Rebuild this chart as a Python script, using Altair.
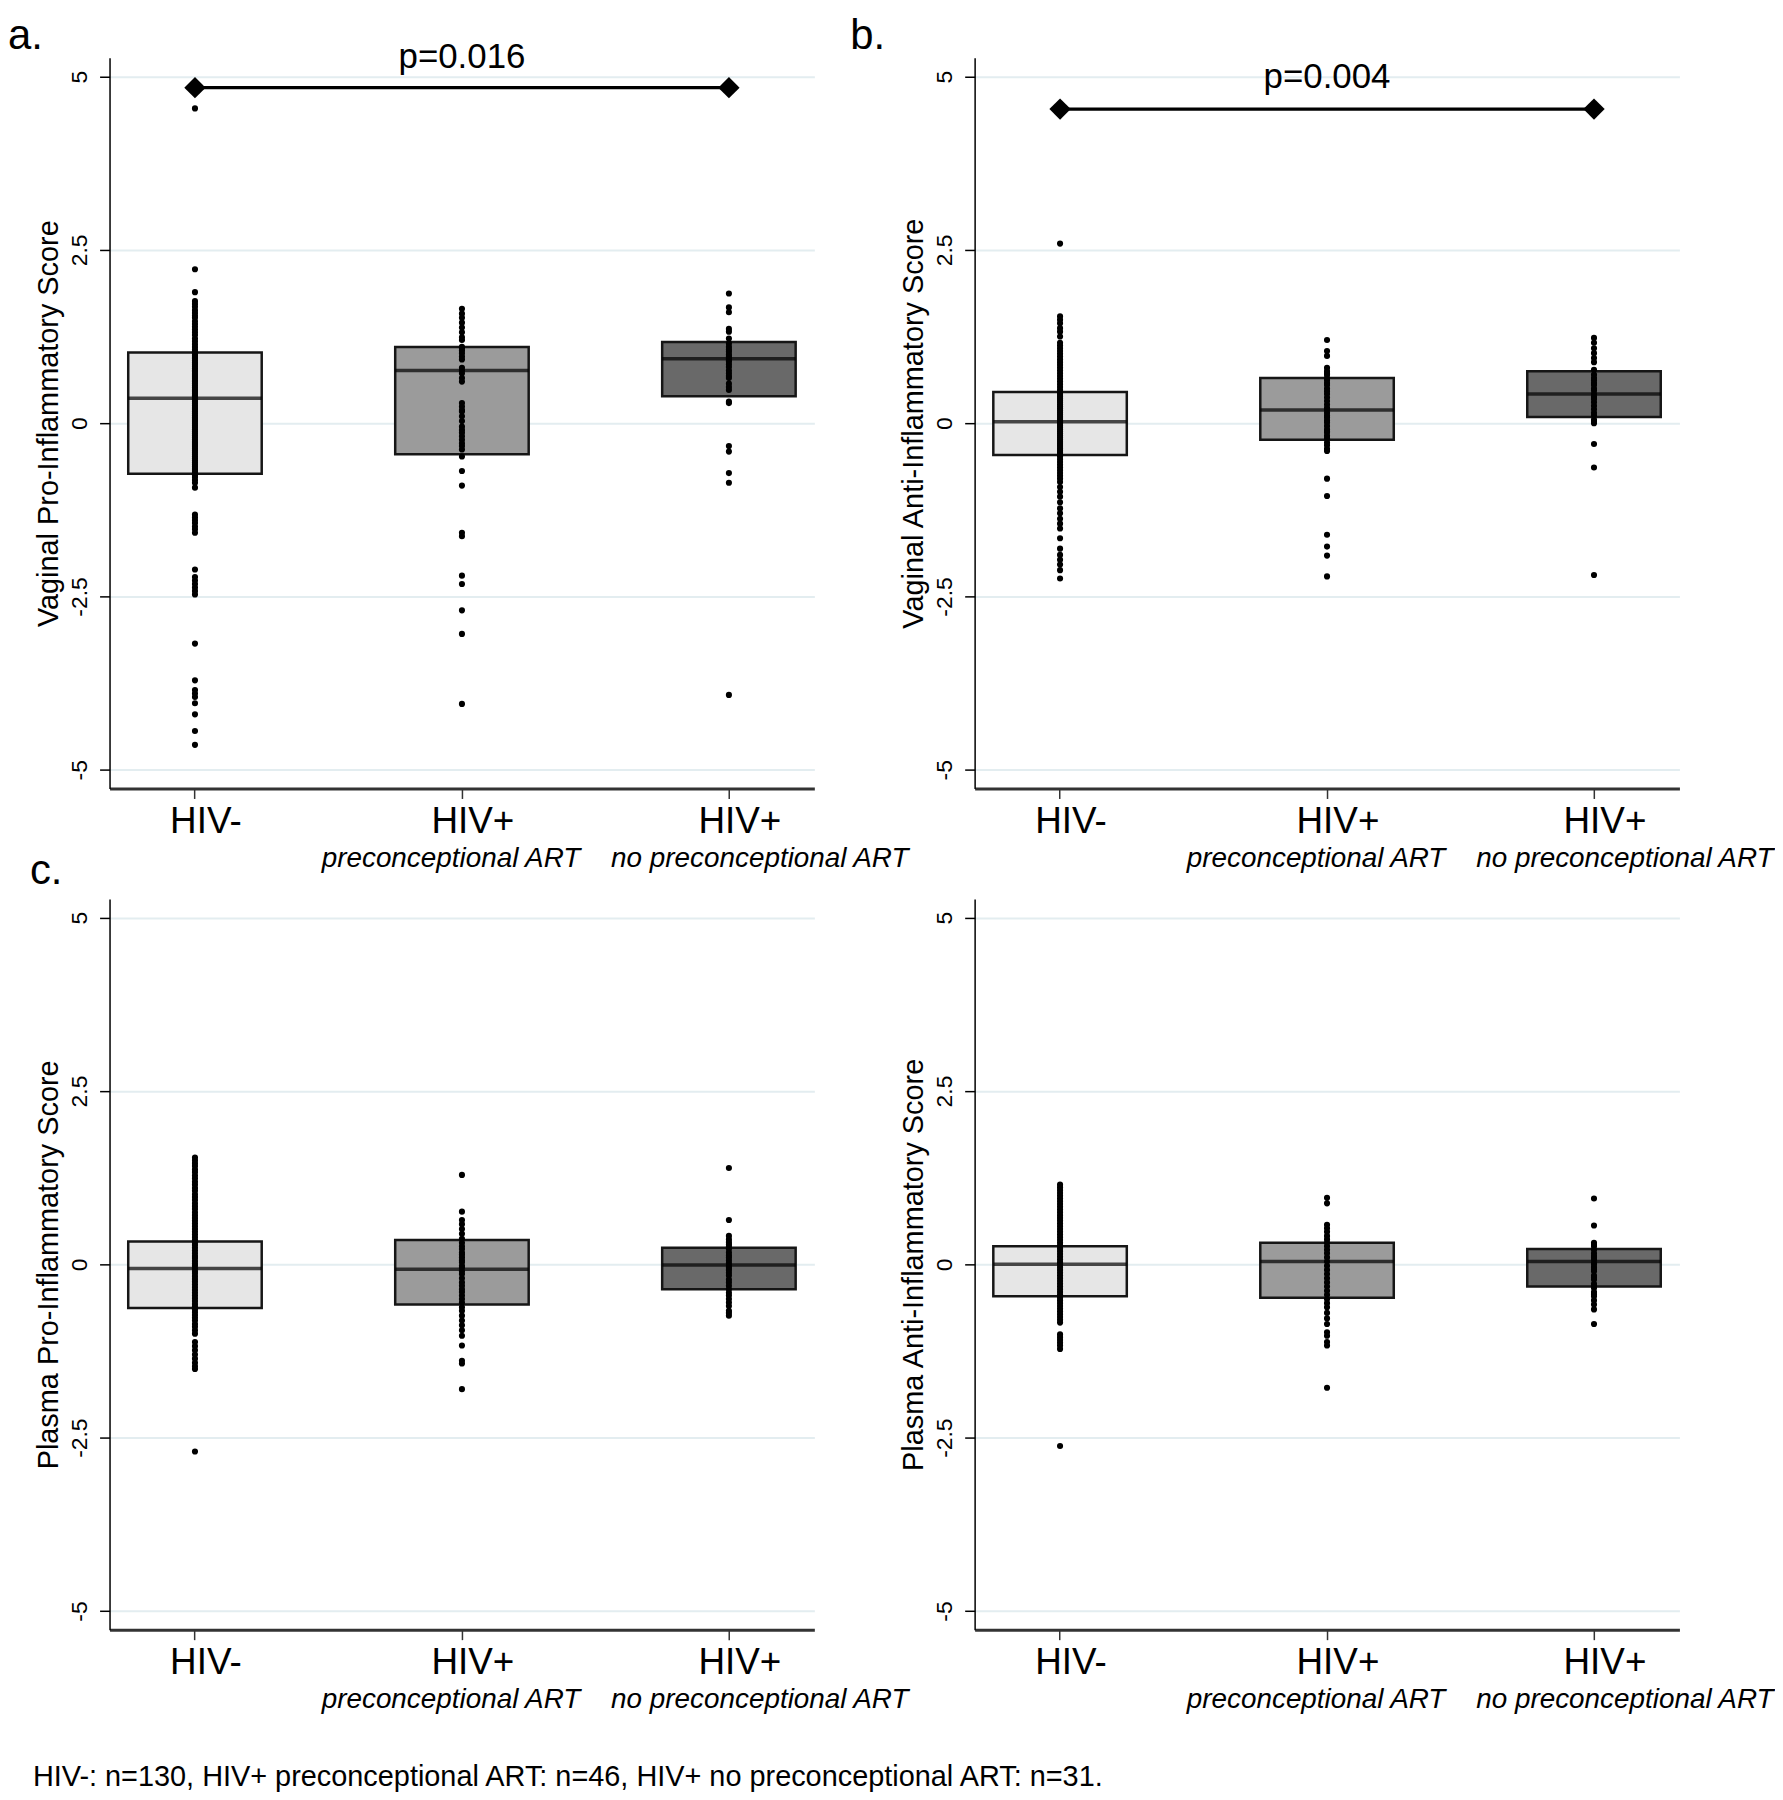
import altair as alt
import pandas as pd

GROUPS = ["HIV-", "HIV+ preconceptional ART", "HIV+ no preconceptional ART"]
TOP_LABELS = ["HIV-", "HIV+", "HIV+"]
SUBTITLES = ["", "preconceptional ART", "no preconceptional ART"]
FILLS = ["#e6e6e6", "#9b9b9b", "#696969"]
Y_TICKS = [-5, -2.5, 0, 2.5, 5]

# ---- Panel a: Vaginal Pro-Inflammatory Score ----
A_NEG = [4.54, 2.22, 1.89, 1.76, 1.72, 1.68, 1.63, 1.59, 1.55, 1.52, 1.47, 1.43, 1.39, 1.35, 1.31,
         1.27, 1.22, 1.18, 1.14, 1.10, 1.06, 1.03, 1.00, 0.98, 0.95, 0.93, 0.90, 0.87, 0.85, 0.82,
         0.79, 0.76, 0.74, 0.71, 0.68, 0.65, 0.62, 0.60, 0.57, 0.54, 0.51, 0.48, 0.46, 0.43, 0.40,
         0.38, 0.36, 0.34, 0.31, 0.28, 0.25, 0.22, 0.20, 0.17, 0.14, 0.11, 0.08, 0.06, 0.03, 0.00,
         -0.03, -0.06, -0.09, -0.12, -0.15, -0.18, -0.21, -0.24, -0.27, -0.30, -0.33, -0.36, -0.39,
         -0.42, -0.45, -0.48, -0.51, -0.54, -0.57, -0.60, -0.63, -0.66, -0.69, -0.72, -0.75, -0.78,
         -0.82, -0.86, -0.93, -1.32, -1.36, -1.40, -1.44, -1.49, -1.53, -1.58, -2.11, -2.22, -2.27,
         -2.32, -2.37, -2.42, -2.47, -3.18, -3.71, -3.85, -3.90, -3.95, -4.04, -4.20, -4.44, -4.64]
A_PRE = [1.65, 1.58, 1.52, 1.45, 1.38, 1.31, 1.24, 1.20, 1.10, 1.08, 1.05, 1.01, 0.96, 0.92, 0.80,
         0.76, 0.72, 0.65, 0.60, 0.29, 0.24, 0.19, 0.17, 0.10, 0.03, -0.05, -0.10, -0.14, -0.19,
         -0.24, -0.29, -0.33, -0.38, -0.48, -0.69, -0.90, -1.58, -1.63, -2.20, -2.32, -2.70, -3.04,
         -4.05]
A_NOPRE = [1.87, 1.67, 1.60, 1.36, 1.32, 1.22, 1.15, 1.10, 1.06, 1.03, 0.99, 0.96, 0.93, 0.91,
           0.89, 0.85, 0.81, 0.76, 0.72, 0.68, 0.65, 0.57, 0.52, 0.48, 0.31, 0.29, -0.33, -0.41,
           -0.72, -0.86, -3.92]
A_Q1 = [-0.73, -0.45, 0.39]
A_MED = [0.36, 0.76, 0.93]
A_Q3 = [1.02, 1.10, 1.17]

# ---- Panel b: Vaginal Anti-Inflammatory Score ----
B_NEG = [2.59, 1.54, 1.49, 1.44, 1.37, 1.32, 1.25, 1.16, 1.12, 1.08, 1.04, 1.00, 0.96, 0.92, 0.88,
         0.84, 0.80, 0.76, 0.72, 0.68, 0.64, 0.60, 0.56, 0.52, 0.48, 0.45, 0.42, 0.39, 0.36, 0.33,
         0.30, 0.27, 0.24, 0.21, 0.18, 0.15, 0.12, 0.09, 0.06, 0.03, 0.02, 0.00, -0.03, -0.06, -0.09,
         -0.12, -0.15, -0.18, -0.21, -0.24, -0.27, -0.30, -0.33, -0.36, -0.39, -0.42, -0.45, -0.48,
         -0.52, -0.56, -0.60, -0.64, -0.68, -0.72, -0.76, -0.80, -0.85, -0.92, -0.99, -1.06, -1.14,
         -1.23, -1.30, -1.38, -1.45, -1.52, -1.66, -1.81, -1.90, -1.97, -2.04, -2.12, -2.24]
B_PRE = [1.20, 1.04, 0.97, 0.80, 0.75, 0.72, 0.70, 0.65, 0.62, 0.58, 0.55, 0.50, 0.46, 0.42, 0.37,
         0.32, 0.27, 0.22, 0.19, 0.15, 0.11, 0.08, 0.04, 0.01, -0.04, -0.09, -0.12, -0.13, -0.18,
         -0.22, -0.28, -0.32, -0.37, -0.40, -0.80, -1.05, -1.61, -1.78, -1.91, -2.21]
B_NOPRE = [1.23, 1.16, 1.08, 1.01, 0.94, 0.88, 0.77, 0.70, 0.65, 0.62, 0.58, 0.55, 0.50, 0.47, 0.42,
           0.38, 0.35, 0.30, 0.25, 0.20, 0.15, 0.11, 0.05, 0.03, 0.00, -0.30, -0.64, -2.19]
B_Q1 = [-0.46, -0.24, 0.09]
B_MED = [0.02, 0.19, 0.42]
B_Q3 = [0.45, 0.65, 0.75]

# ---- Panel c: Plasma Pro-Inflammatory Score ----
C_NEG = [1.54, 1.50, 1.46, 1.42, 1.37, 1.33, 1.28, 1.24, 1.19, 1.15, 1.10, 1.06, 1.01, 0.97, 0.93,
         0.88, 0.84, 0.80, 0.75, 0.71, 0.67, 0.63, 0.59, 0.55, 0.51, 0.47, 0.43, 0.39, 0.35, 0.31,
         0.28, 0.24, 0.20, 0.16, 0.12, 0.09, 0.05, 0.01, -0.02, -0.06, -0.10, -0.13, -0.17, -0.21,
         -0.25, -0.29, -0.33, -0.37, -0.41, -0.45, -0.49, -0.53, -0.57, -0.61, -0.65, -0.69, -0.73,
         -0.77, -0.81, -0.86, -0.90, -0.95, -1.00, -1.12, -1.18, -1.24, -1.30, -1.36, -1.42, -1.47,
         -1.51, -2.70]
C_PRE = [1.29, 0.76, 0.64, 0.58, 0.51, 0.44, 0.37, 0.31, 0.26, 0.22, 0.17, 0.14, 0.10, 0.06, 0.03,
         -0.02, -0.05, -0.10, -0.14, -0.20, -0.26, -0.31, -0.36, -0.40, -0.45, -0.50, -0.55, -0.62,
         -0.67, -0.74, -0.81, -0.88, -0.95, -1.03, -1.17, -1.39, -1.43, -1.80]
C_NOPRE = [1.39, 0.64, 0.41, 0.36, 0.32, 0.29, 0.26, 0.22, 0.17, 0.13, 0.10, 0.06, 0.02, -0.02,
           -0.05, -0.08, -0.12, -0.16, -0.22, -0.26, -0.31, -0.36, -0.41, -0.45, -0.50, -0.55,
           -0.60, -0.67, -0.70, -0.74]
C_Q1 = [-0.63, -0.58, -0.36]
C_MED = [-0.06, -0.07, -0.01]
C_Q3 = [0.33, 0.35, 0.24]

# ---- Panel d: Plasma Anti-Inflammatory Score ----
D_NEG = [1.15, 1.11, 1.07, 1.03, 0.99, 0.95, 0.91, 0.87, 0.83, 0.79, 0.75, 0.71, 0.67, 0.63, 0.59,
         0.55, 0.51, 0.47, 0.43, 0.39, 0.35, 0.31, 0.27, 0.23, 0.19, 0.15, 0.11, 0.07, 0.03, 0.00,
         -0.04, -0.08, -0.12, -0.16, -0.20, -0.24, -0.28, -0.32, -0.36, -0.40, -0.44, -0.48, -0.52,
         -0.56, -0.60, -0.64, -0.68, -0.72, -0.76, -0.80, -0.84, -1.01, -1.05, -1.09, -1.13, -1.17,
         -1.22, -2.62]
D_PRE = [0.96, 0.88, 0.57, 0.52, 0.47, 0.41, 0.36, 0.31, 0.26, 0.21, 0.16, 0.10, 0.04, -0.02, -0.08,
         -0.14, -0.20, -0.26, -0.32, -0.38, -0.44, -0.50, -0.56, -0.62, -0.70, -0.78, -0.86, -0.98,
         -1.03, -1.12, -1.17, -1.78]
D_NOPRE = [0.95, 0.56, 0.31, 0.28, 0.26, 0.21, 0.16, 0.12, 0.10, 0.07, 0.02, 0.00, -0.04, -0.07,
           -0.10, -0.16, -0.19, -0.22, -0.28, -0.31, -0.34, -0.40, -0.43, -0.46, -0.52, -0.58,
           -0.65, -0.86]
D_Q1 = [-0.46, -0.48, -0.32]
D_MED = [0.00, 0.04, 0.04]
D_Q3 = [0.26, 0.31, 0.22]

TITLES = ["Vaginal Pro-Inflammatory Score", "Vaginal Anti-Inflammatory Score",
          "Plasma Pro-Inflammatory Score", "Plasma Anti-Inflammatory Score"]
P_LABELS = ["p=0.016", "p=0.004"]
P_BRACKET_Y = [4.84, 4.53]
P_TEXT_Y = [5.12, 4.83]
LETTERS = ["a.", "b.", "c."]
FOOTNOTE = "HIV-: n=130, HIV+ preconceptional ART: n=46, HIV+ no preconceptional ART: n=31."

W, H = 708, 734
BAND = 134
FONT = "Liberation Sans"

x_scale = alt.Scale(domain=GROUPS, paddingInner=0.5, paddingOuter=0.07)
y_scale = alt.Scale(domain=[-5.27, 5.27], nice=False, zero=False)


def x_enc():
    label_expr = ("datum.label == 'HIV-' ? '%s' : '%s'" % (TOP_LABELS[0], TOP_LABELS[1]))
    return alt.X("group:N", scale=x_scale, sort=GROUPS,
                 axis=alt.Axis(title=None, labelAngle=0, labelFont=FONT, labelFontSize=37,
                               labelColor="black", labelExpr=label_expr, labelOffset=11,
                               labelPadding=5, tickSize=10, tickColor="#333333", tickWidth=1.5,
                               domainColor="#333333", domainWidth=3, bandPosition=0.5,
                               grid=False, labelLimit=400))


def y_enc(field, title):
    return alt.Y(field, type="quantitative", scale=y_scale,
                 axis=alt.Axis(values=Y_TICKS, title=title, titleFont=FONT, titleFontSize=29,
                               titleFontWeight="normal", titleColor="black", titlePadding=5,
                               labelFont=FONT, labelFontSize=23, labelColor="black",
                               labelAngle=270, labelAlign="center", labelBaseline="bottom",
                               labelPadding=8, labelExpr="toString(datum.value)",
                               tickSize=10, tickColor="black", tickWidth=1.5,
                               domainColor="black", domainWidth=1.5,
                               grid=True, gridColor="#e3edf0", gridWidth=2))


def panel(idx, neg, pre, nopre, q1, med, q3, letter=None, letter_pos=None,
          pval=None, footnote=False):
    title = TITLES[idx]
    pts = pd.DataFrame({
        "group": [GROUPS[0]] * len(neg) + [GROUPS[1]] * len(pre) + [GROUPS[2]] * len(nopre),
        "value": list(neg) + list(pre) + list(nopre),
    })
    box = pd.DataFrame({"group": GROUPS, "q1": q1, "med": med, "q3": q3})
    subs = pd.DataFrame({"group": GROUPS, "sub": SUBTITLES})

    boxes = alt.Chart(box).mark_bar(stroke="#161616", strokeWidth=2.5).encode(
        x=x_enc(), y=y_enc("q1", title), y2="q3",
        color=alt.Color("group:N", scale=alt.Scale(domain=GROUPS, range=FILLS), legend=None))
    medians = alt.Chart(box).mark_tick(color="black", thickness=3.5, size=BAND).encode(
        x=x_enc(), y=y_enc("med", title))
    dots = alt.Chart(pts).mark_circle(size=38, color="black", opacity=1).encode(
        x=x_enc(), y=y_enc("value", title))
    sub1 = alt.Chart(subs[subs["group"] == GROUPS[1]]).mark_text(
        font=FONT, fontStyle="italic", fontSize=28, baseline="alphabetic",
        align="center", dx=-11, color="black").encode(
        x=x_enc(), y=alt.value(813), text="sub:N")
    sub2 = alt.Chart(subs[subs["group"] == GROUPS[2]]).mark_text(
        font=FONT, fontStyle="italic", fontSize=28, baseline="alphabetic",
        align="center", dx=31, color="black").encode(
        x=x_enc(), y=alt.value(813), text="sub:N")
    layers = [boxes, medians, dots, sub1, sub2]

    if pval is not None:
        bdf = pd.DataFrame({"group": [GROUPS[0], GROUPS[2]],
                            "y": [P_BRACKET_Y[pval]] * 2})
        line = alt.Chart(bdf).mark_line(color="black", strokeWidth=3.5).encode(
            x=x_enc(), y=y_enc("y", title))
        diam = alt.Chart(bdf).mark_point(shape="diamond", filled=True, size=460,
                                         color="black", opacity=1).encode(
            x=x_enc(), y=y_enc("y", title))
        tdf = pd.DataFrame({"group": [GROUPS[1]], "y": [P_TEXT_Y[pval]],
                            "t": [P_LABELS[pval]]})
        ptxt = alt.Chart(tdf).mark_text(font=FONT, fontSize=35, baseline="alphabetic",
                                        align="center", color="black").encode(
            x=x_enc(), y=y_enc("y", title), text="t:N")
        layers += [line, diam, ptxt]

    if letter is not None:
        ldf = pd.DataFrame({"t": [letter]})
        ltxt = alt.Chart(ldf).mark_text(font=FONT, fontSize=42, baseline="alphabetic",
                                        align="left", color="black").encode(
            x=alt.value(letter_pos[0]), y=alt.value(letter_pos[1]), text="t:N")
        layers.append(ltxt)

    if footnote:
        fdf = pd.DataFrame({"t": [FOOTNOTE]})
        ftxt = alt.Chart(fdf).mark_text(font=FONT, fontSize=29, baseline="alphabetic",
                                        align="left", color="black").encode(
            x=alt.value(-77), y=alt.value(891), text="t:N")
        layers.append(ftxt)

    return alt.layer(*layers).properties(width=W, height=H)


pa = panel(0, A_NEG, A_PRE, A_NOPRE, A_Q1, A_MED, A_Q3, letter=LETTERS[0],
           letter_pos=(-102, -9), pval=0)
pb = panel(1, B_NEG, B_PRE, B_NOPRE, B_Q1, B_MED, B_Q3, letter=LETTERS[1],
           letter_pos=(-125, -9), pval=1)
pc = panel(2, C_NEG, C_PRE, C_NOPRE, C_Q1, C_MED, C_Q3, letter=LETTERS[2],
           letter_pos=(-80, -15), footnote=True)
pd_ = panel(3, D_NEG, D_PRE, D_NOPRE, D_Q1, D_MED, D_Q3)

chart = alt.concat(pa, pb, pc, pd_, columns=2,
                   spacing={"row": 111, "column": 161}, bounds="flush").properties(
    padding={"left": 0, "top": 3, "right": 0, "bottom": 0}, background="white"
).configure_view(stroke=None)

chart.save("out.html", embed_options={"renderer": "svg", "actions": False})
